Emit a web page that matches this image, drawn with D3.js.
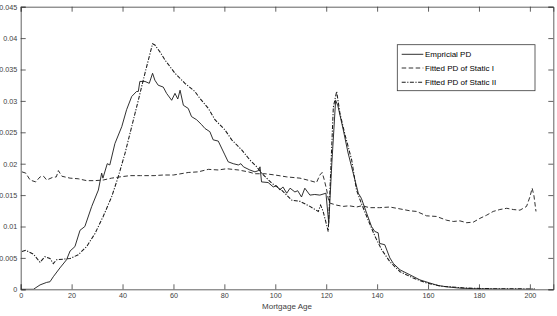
<!DOCTYPE html>
<html>
<head>
<meta charset="utf-8">
<script src="https://cdn.jsdelivr.net/npm/d3@7"></script>
<style>
html,body{margin:0;padding:0;background:#fff;}
svg{display:block;font-family:"Liberation Sans",Arial,Helvetica,sans-serif;}
</style>
</head>
<body>
<svg id="chart" width="557" height="316"></svg>
<script>
// ---------- DATA ----------
const xTicks = [0, 20, 40, 60, 80, 100, 120, 140, 160, 180, 200];
const yTicks = [0, 0.005, 0.01, 0.015, 0.02, 0.025, 0.03, 0.035, 0.04, 0.045];
const yTickLabels = ["0", "0.005", "0.01", "0.015", "0.02", "0.025", "0.03", "0.035", "0.04", "0.045"];
const xLabel = "Mortgage Age";
const seriesNames = ["Empricial PD", "Fitted PD of Static I", "Fitted PD of Static II"];

const empiricalAge = [0, 5, 7.6, 10.2, 11.5, 12.8, 15.4, 18, 19.4, 21.3, 23.3, 25.2, 27.9, 30.5, 31.8, 32.3, 34, 35, 37, 39.7, 41.6, 43.6, 45.5, 46.2, 46.8, 48.8, 50.5, 51.8, 52.7, 54, 56, 57.3, 59.3, 60.6, 61.7, 62.6, 63.9, 65.8, 67.1, 69.1, 71.1, 72.4, 74.3, 75.6, 77.6, 78.9, 80.2, 81.5, 83.5, 85.5, 86.5, 87.5, 90, 92, 93.4, 94, 94.6, 97.2, 99.2, 100.5, 101.8, 103, 104.5, 105.8, 107.7, 108.8, 110.3, 111.6, 113.6, 115.5, 117.5, 119.9, 121, 122.2, 123.7, 124.6, 126.7, 128.6, 130.6, 132.6, 133.8, 135.9, 137.8, 139.1, 140.4, 141, 143, 145, 146.4, 149, 152.9, 156.8, 160.7, 164, 167.3, 172, 178, 185, 202];
const empiricalPD = [0, 0, 0.0007, 0.0011, 0.0012, 0.002, 0.0034, 0.0047, 0.0061, 0.0068, 0.0094, 0.0100, 0.0132, 0.0158, 0.0185, 0.0177, 0.0200, 0.0198, 0.0232, 0.0259, 0.0286, 0.0307, 0.0315, 0.0315, 0.0331, 0.0331, 0.0328, 0.0344, 0.0333, 0.0325, 0.0322, 0.0312, 0.0301, 0.0312, 0.0303, 0.0317, 0.0293, 0.0288, 0.0275, 0.0270, 0.0262, 0.0256, 0.0251, 0.0238, 0.0236, 0.0225, 0.0214, 0.0203, 0.0200, 0.0198, 0.0200, 0.0195, 0.0190, 0.0187, 0.0189, 0.0195, 0.0171, 0.0170, 0.0163, 0.0165, 0.0158, 0.0163, 0.0153, 0.0161, 0.0155, 0.0157, 0.0147, 0.0161, 0.0150, 0.0151, 0.0150, 0.0153, 0.0105, 0.0200, 0.0301, 0.0292, 0.0254, 0.0217, 0.0185, 0.0153, 0.0145, 0.0121, 0.0100, 0.0092, 0.0090, 0.0073, 0.0071, 0.0050, 0.0041, 0.0031, 0.0023, 0.0015, 0.0010, 0.0006, 0.0004, 0.0002, 0.0001, 0.00005, 0];

const static1Age = [0.5, 2, 3.7, 5.9, 7.6, 9, 10.2, 12.4, 14, 14.8, 16.2, 19.4, 22.6, 25.9, 29, 32.4, 35.7, 39, 43, 47, 52.4, 56, 60, 65.8, 69.7, 73.7, 77.6, 80.9, 85.5, 89.4, 92, 96, 99.9, 104.5, 109.7, 113.6, 116.2, 117.5, 118.4, 119.2, 120.2, 121, 121.6, 124.1, 126.7, 129, 131.9, 134, 137.1, 141, 145, 149, 152.9, 155.5, 159.4, 163.3, 167.3, 169.9, 172.5, 175.2, 177.8, 180.4, 183, 185.6, 188.2, 190.9, 193.5, 196.1, 198.7, 200, 200.9, 201.6, 202.4];
const static1PD = [0.0187, 0.0185, 0.0174, 0.0171, 0.0179, 0.0180, 0.0174, 0.0178, 0.0179, 0.0189, 0.0180, 0.0177, 0.0176, 0.0173, 0.0173, 0.0174, 0.0177, 0.0179, 0.0181, 0.0181, 0.0181, 0.0182, 0.0182, 0.0186, 0.0187, 0.0191, 0.0190, 0.0192, 0.0190, 0.0187, 0.0184, 0.0184, 0.0182, 0.0179, 0.0177, 0.0173, 0.0170, 0.0182, 0.0186, 0.0175, 0.0158, 0.0140, 0.0137, 0.0134, 0.0132, 0.0133, 0.0131, 0.0133, 0.0130, 0.0130, 0.0131, 0.0128, 0.0125, 0.0124, 0.0117, 0.0116, 0.0110, 0.0108, 0.0109, 0.0106, 0.0107, 0.0113, 0.0118, 0.0124, 0.0127, 0.0129, 0.0127, 0.0126, 0.0132, 0.0147, 0.0161, 0.0149, 0.0124];

const static2Age = [0.5, 2, 5, 7.6, 9.5, 11.5, 12.8, 14.1, 16.7, 19.4, 22.6, 25.9, 29.2, 32.4, 35.7, 38.3, 41, 43.6, 46.2, 48.8, 51.8, 52.7, 54.7, 56.7, 60.6, 64.5, 68.4, 70.4, 73.7, 76.3, 80.2, 82.9, 86.8, 90, 92.7, 94.6, 98.6, 102.5, 106.4, 109.7, 113.6, 116.9, 117.8, 118.8, 120.8, 122.8, 124.1, 125.4, 127.4, 130, 131.9, 133.8, 136.5, 139.2, 141.8, 145, 149, 154.2, 159.4, 165, 175, 185, 202];
const static2PD = [0.0060, 0.0062, 0.0056, 0.0043, 0.0052, 0.0049, 0.0041, 0.0047, 0.0048, 0.0049, 0.0055, 0.0068, 0.0089, 0.0116, 0.0147, 0.0179, 0.0217, 0.0259, 0.0301, 0.0344, 0.0391, 0.0389, 0.0378, 0.0365, 0.0344, 0.0328, 0.0315, 0.0304, 0.0288, 0.0270, 0.0254, 0.0238, 0.0222, 0.0206, 0.0195, 0.0185, 0.0169, 0.0158, 0.0142, 0.0140, 0.0132, 0.0124, 0.0134, 0.0124, 0.0092, 0.0290, 0.0315, 0.0280, 0.0246, 0.0206, 0.0158, 0.0137, 0.0110, 0.0084, 0.0063, 0.0044, 0.0028, 0.0018, 0.0010, 0.0005, 0.0002, 0.0001, 0.00005];

// ---------- LAYOUT ----------
const svg = d3.select("#chart");
const L = 20.7, R = 553.3, T = 6.7, B = 289.3;
const x = d3.scaleLinear().domain([0, 209.2]).range([L, R]);
const y = d3.scaleLinear().domain([0, 0.045]).range([B, T]);
const axisColor = "#3a3a3a";
const textColor = "#404040";
const tickLen = 5;
const tickFont = 7.2;

svg.append("rect").attr("x", 0).attr("y", 0).attr("width", 557).attr("height", 316).attr("fill", "#fff");

svg.append("defs").append("clipPath").attr("id", "clip")
  .append("rect").attr("x", L).attr("y", T).attr("width", R - L).attr("height", B - T);

// axes (inward ticks, box)
const axB = svg.append("g").attr("transform", `translate(0,${B})`)
  .call(d3.axisBottom(x).tickValues(xTicks).tickSize(-tickLen).tickPadding(4).tickFormat(d3.format("d")));
const axT = svg.append("g").attr("transform", `translate(0,${T})`)
  .call(d3.axisTop(x).tickValues(xTicks).tickSize(-tickLen).tickFormat(""));
const axL = svg.append("g").attr("transform", `translate(${L},0)`)
  .call(d3.axisLeft(y).tickValues(yTicks).tickSize(-tickLen).tickPadding(3.5).tickFormat((d, i) => yTickLabels[i]));
const axR = svg.append("g").attr("transform", `translate(${R},0)`)
  .call(d3.axisRight(y).tickValues(yTicks).tickSize(-tickLen).tickFormat(""));

[axB, axT, axL, axR].forEach(g => {
  g.select(".domain").attr("stroke", axisColor).attr("stroke-width", 0.8);
  g.selectAll(".tick line").attr("stroke", axisColor).attr("stroke-width", 0.8);
  g.selectAll(".tick text").attr("fill", textColor).attr("font-size", tickFont)
    .attr("font-family", '"Liberation Sans",Arial,sans-serif');
});
axL.selectAll(".tick text").attr("dy", "0.32em");

svg.append("text").attr("x", (L + R) / 2).attr("y", 308.6)
  .attr("text-anchor", "middle").attr("font-size", 8).attr("fill", textColor)
  .text(xLabel);

// ---------- LINES ----------
const lineColor = "#1a1a1a";
const styles = [
  { dash: null, w: 0.9 },
  { dash: "4.5,2.5", w: 0.9 },
  { dash: "4,1.5,1.2,1.5", w: 1.05 }
];
const series = [
  { ages: static1Age, vals: static1PD, s: styles[1] },
  { ages: static2Age, vals: static2PD, s: styles[2] },
  { ages: empiricalAge, vals: empiricalPD, s: styles[0] }
];
const line = d3.line().x(d => x(d[0])).y(d => y(d[1]));
const gLines = svg.append("g").attr("clip-path", "url(#clip)");
series.forEach(sr => {
  const pts = sr.ages.map((a, i) => [a, sr.vals[i]]);
  gLines.append("path").datum(pts)
    .attr("d", line).attr("fill", "none")
    .attr("stroke", lineColor).attr("stroke-width", sr.s.w)
    .attr("stroke-dasharray", sr.s.dash);
});

// ---------- LEGEND ----------
const lg = svg.append("g");
lg.append("rect").attr("x", 397.3).attr("y", 44.7).attr("width", 137.7).attr("height", 46)
  .attr("fill", "#fff").attr("stroke", axisColor).attr("stroke-width", 0.8);
const rowY = [54.3, 68, 82.3];
seriesNames.forEach((name, i) => {
  lg.append("line").attr("x1", 401.7).attr("x2", 423.3).attr("y1", rowY[i]).attr("y2", rowY[i])
    .attr("stroke", lineColor).attr("stroke-width", styles[i].w).attr("stroke-dasharray", styles[i].dash);
  lg.append("text").attr("x", 425).attr("y", rowY[i]).attr("dy", "0.33em")
    .attr("font-size", 8).attr("fill", "#000").text(name);
});
</script>
</body>
</html>
